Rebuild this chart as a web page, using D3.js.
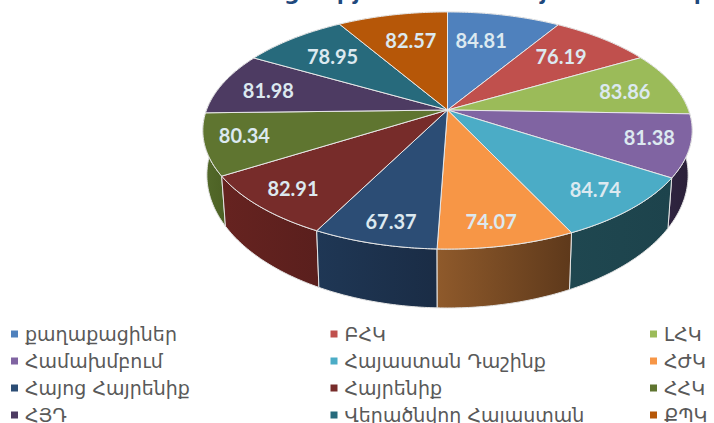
<!DOCTYPE html>
<html>
<head>
<meta charset="utf-8">
<script src="https://cdn.jsdelivr.net/npm/d3@7"></script>
<style>
    html, body { margin: 0; padding: 0; background: #fff; }
    svg { display: block; }
    text { font-family: "DejaVu Sans", sans-serif; }
</style>
</head>
<body>
<svg id="chart" width="714" height="423"></svg>
<script>
const PARTIES = [
    'քաղաքացիներ', 'ԲՀԿ', 'ԼՀԿ',
    'Համախմբում', 'Հայաստան Դաշինք', 'ՀԺԿ',
    'Հայոց Հայրենիք', 'Հայրենիք', 'ՀՀԿ',
    'ՀՅԴ', 'Վերածնվող Հայաստան', 'ՔՊԿ'
];
const VALUES = [84.81, 76.19, 83.86, 81.38, 84.74, 74.07, 67.37, 82.91, 80.34, 81.98, 78.95, 82.57];

const COLORS = [
    '#4f81bd', '#c0504d', '#9bbb59', '#8064a2', '#4bacc6', '#f79646',
    '#2c4d75', '#772c2a', '#5f7530', '#4d3b62', '#276a7c', '#b65708'
];
// side wall colours, left and right end of each slice
const WALLS = [
    ['#2f4d71', '#2f4d71'], ['#733030', '#733030'], ['#5d7035', '#5d7035'],
    ['#2f2440', '#2a2038'], ['#1f4750', '#1d434c'], ['#8f5a2b', '#5e391b'],
    ['#1f3755', '#1a2c45'], ['#662320', '#5a1f1d'], ['#546a2b', '#4c6124'],
    ['#2e233b', '#2e233b'], ['#173f4a', '#173f4a'], ['#6d3405', '#6d3405']
];
// nudges of the value labels away from the default spot, same order as VALUES
const LABEL_NUDGE = [
    [-6, -3], [5, -3], [20, 0], [32, 3], [19, 11], [2, 17],
    [-5, 18], [-23, 11], [-33, 2], [-22, 0], [-7, -3], [2, -3]
];
// the title is cut off by the top of the picture, only these tails show
const TITLE_TAILS = ['ց', 'փ', 'յ', 'Ջ', 'յ', 'փ'];
const TITLE_TAIL_X = [284, 330, 353, 434, 540, 687];

const svg = d3.select('#chart');
const defs = svg.append('defs');

// the pie is tilted with perspective: the far edge is squeezed
const P = 0.173;
const TOP = { cx: 447.5, cy: 110, a: 241, b: 115 };
const BOTTOM = { cx: 447.5, cy: 152, a: 237, b: 129 };
const LABEL_RIM = { cx: 447.5, cy: 110, a: 241 * 0.7, b: 115 * 0.7 };

const project = (rim, t) => {
    const v = Math.cos(t);
    const w = 1 + P * v;
    return [rim.cx + rim.a * Math.sin(t) / w, rim.cy - rim.b * v / w];
};

const arcPoints = (rim, d) => d3.range(0, 41).map(i =>
    project(rim, d.startAngle + (d.endAngle - d.startAngle) * i / 40));

const line = d3.line();
const pie = d3.pie().sort(null)(VALUES);

svg.append('g')
    .selectAll('text')
    .data(TITLE_TAILS)
    .enter()
    .append('text')
    .attr('x', (d, i) => TITLE_TAIL_X[i])
    .attr('y', 0)
    .attr('fill', '#1f497d')
    .style('font-size', '22px')
    .style('font-weight', 'bold')
    .text(d => d);

// walls first, the top face hides whatever is behind it
const wallOrder = pie.slice().sort((a, b) =>
    Math.cos((b.startAngle + b.endAngle) / 2) - Math.cos((a.startAngle + a.endAngle) / 2));

wallOrder.forEach(d => {
    const id = 'wall' + d.index;
    const grad = defs.append('linearGradient').attr('id', id);
    grad.append('stop').attr('offset', '0%').attr('stop-color', WALLS[d.index][0]);
    grad.append('stop').attr('offset', '100%').attr('stop-color', WALLS[d.index][1]);
    const outline = arcPoints(TOP, d).concat(arcPoints(BOTTOM, d).reverse());
    svg.append('path')
        .attr('d', line(outline) + 'Z')
        .attr('fill', `url(#${id})`)
        .attr('stroke', '#e4e4e4')
        .attr('stroke-width', 1);
});

svg.append('g')
    .selectAll('path')
    .data(pie)
    .enter()
    .append('path')
    .attr('d', d => line([[TOP.cx, TOP.cy]].concat(arcPoints(TOP, d))) + 'Z')
    .attr('fill', d => COLORS[d.index])
    .attr('stroke', '#e8e8e8')
    .attr('stroke-width', 1);

svg.append('g')
    .selectAll('text')
    .data(pie)
    .enter()
    .append('text')
    .attr('x', d => project(LABEL_RIM, (d.startAngle + d.endAngle) / 2)[0] + LABEL_NUDGE[d.index][0])
    .attr('y', d => project(LABEL_RIM, (d.startAngle + d.endAngle) / 2)[1] + LABEL_NUDGE[d.index][1] + 7)
    .attr('text-anchor', 'middle')
    .attr('fill', '#dce9f0')
    .style('font-family', 'Lato, sans-serif')
    .style('font-weight', 700)
    .style('font-size', '20px')
    .text(d => d.value.toFixed(2));

// legend: three columns, filled row by row
const legendX = d3.scalePoint().domain([0, 1, 2]).range([14.5, 653.5]);
const legendY = d3.scalePoint().domain([0, 1, 2, 3]).range([334, 415]);

const legend = svg.append('g')
    .selectAll('g')
    .data(PARTIES)
    .enter()
    .append('g')
    .attr('transform', (d, i) => `translate(${legendX(i % 3)},${legendY(Math.floor(i / 3))})`);

legend.append('rect')
    .attr('x', -3.5)
    .attr('y', -3.5)
    .attr('width', 7)
    .attr('height', 7)
    .attr('fill', (d, i) => COLORS[i]);

legend.append('text')
    .attr('x', 10.5)
    .attr('y', 7)
    .attr('fill', '#595959')
    .style('font-size', '19px')
    .text(d => d);
</script>
</body>
</html>
